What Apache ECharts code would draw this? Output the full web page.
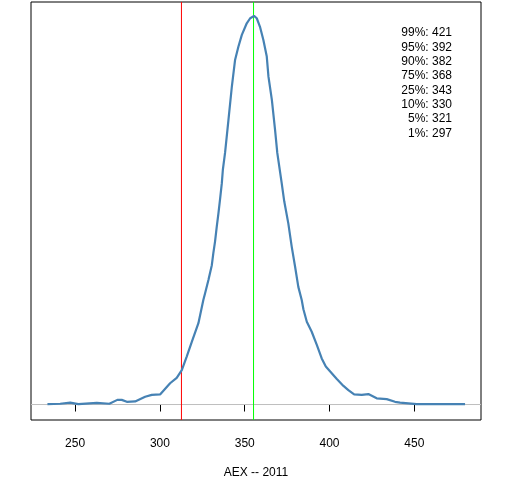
<!DOCTYPE html>
<html>
<head>
<meta charset="utf-8">
<script src="https://cdn.jsdelivr.net/npm/echarts@6/dist/echarts.min.js"></script>
<style>
  html, body { margin: 0; padding: 0; background: #fff; }
  #chart { width: 512px; height: 480px; }
</style>
</head>
<body>
<div id="chart"></div>
<script>
// density curve of AEX 2011 (peak scaled to ~100)
const densityX = [233.7, 241.2, 247.1, 251.9, 262.8, 270.2, 274.9, 277.5, 280.5, 285.4,
  291.3, 295.2, 300.1, 306.0, 309.9, 312.9, 315.8, 318.8, 322.7, 325.6,
  326.6, 328.6, 330.6, 331.5, 332.5, 333.5, 334.5, 335.5, 336.5, 337.1,
  338.4, 340.4, 342.4, 344.3, 346.3, 348.3, 351.2, 353.2, 355.5, 357.1,
  359.0, 361.0, 363.0, 364.0, 366.0, 367.9, 369.2, 371.8, 373.3, 375.7,
  377.7, 379.7, 381.6, 383.6, 384.6, 386.6, 389.5, 392.5, 395.4, 397.8,
  401.3, 404.3, 408.2, 411.1, 414.5, 419.0, 422.9, 427.8, 433.7, 438.6,
  441.6, 451.4, 469.1, 470.0, 472.0, 479.9];
const densityY = [0.1, 0.2, 0.5, 0.1, 0.4, 0.2, 1.2, 1.2, 0.7, 0.8,
  2.0, 2.5, 2.6, 5.5, 6.9, 8.9, 12.4, 16.2, 21.0, 27.0,
  28.7, 32.2, 36.0, 39.1, 42.1, 45.9, 49.4, 53.2, 57.2, 60.6,
  65.0, 73.5, 82.1, 89.0, 92.5, 95.5, 98.5, 99.8, 100.4, 99.8,
  97.6, 94.2, 89.9, 84.7, 78.7, 70.9, 65.0, 57.2, 52.5, 46.8,
  40.8, 35.6, 30.4, 27.0, 24.6, 21.4, 18.8, 15.4, 11.9, 9.8,
  8.1, 6.6, 4.8, 3.7, 2.6, 2.5, 2.7, 1.6, 1.4, 0.7,
  0.5, 0.1, 0.1, 0.5, 0.1, 0.1];

const tickValues = [250, 300, 350, 400, 450];
const quantileNames = ['99%', '95%', '90%', '75%', '25%', '10%', '5%', '1%'];
const quantileValues = [421, 392, 382, 368, 343, 330, 321, 297];
const redLineX = 312.7;
const greenLineX = 355.2;
const axisTitle = 'AEX -- 2011';

const xMin = 224, xMax = 489.3;
const yMin = -4, yMax = 104;

const chart = echarts.init(document.getElementById('chart'));
const font = 'Liberation Sans, Arial, sans-serif';

const quantileText = quantileNames
  .map((n, i) => n + ': ' + quantileValues[i])
  .join('\n');

// plain straight line series for the reference lines
function refLine(points, color) {
  return {
    type: 'line',
    data: points,
    showSymbol: false,
    silent: true,
    lineStyle: { color: color, width: 1 },
    z: 2
  };
}

chart.setOption({
  animation: false,
  backgroundColor: '#fff',
  grid: {
    left: 31, right: 31, top: 2, bottom: 60,
    outerBoundsMode: 'none',
    show: true, borderColor: '#000', borderWidth: 1, backgroundColor: 'transparent'
  },
  xAxis: {
    type: 'value',
    min: xMin,
    max: xMax,
    name: axisTitle,
    nameLocation: 'middle',
    nameGap: 47,
    nameTextStyle: { color: '#000', fontSize: 12, fontFamily: font },
    axisLine: { show: false },
    splitLine: { show: false },
    axisTick: {
      show: true, length: 7, lineStyle: { color: '#000' },
      customValues: tickValues
    },
    axisLabel: {
      color: '#000', fontSize: 12, fontFamily: font, margin: 18,
      customValues: tickValues
    }
  },
  yAxis: {
    type: 'value',
    min: yMin,
    max: yMax,
    show: false,
    splitLine: { show: false }
  },
  graphic: [{
    type: 'text',
    style: {
      text: quantileText,
      x: 452,
      y: 26,
      align: 'right',
      verticalAlign: 'top',
      lineHeight: 14.3,
      font: '12px ' + font,
      fill: '#000'
    }
  }],
  series: [
    refLine([[xMin, 0], [xMax, 0]], '#BEBEBE'),
    refLine([[redLineX, yMin], [redLineX, yMax]], '#FF0000'),
    refLine([[greenLineX, yMin], [greenLineX, yMax]], '#00FF00'),
    {
      type: 'line',
      data: densityX.map((x, i) => [x, densityY[i]]),
      showSymbol: false,
      lineStyle: { color: '#4682B4', width: 2.2 },
      z: 3
    }
  ]
});
</script>
</body>
</html>
